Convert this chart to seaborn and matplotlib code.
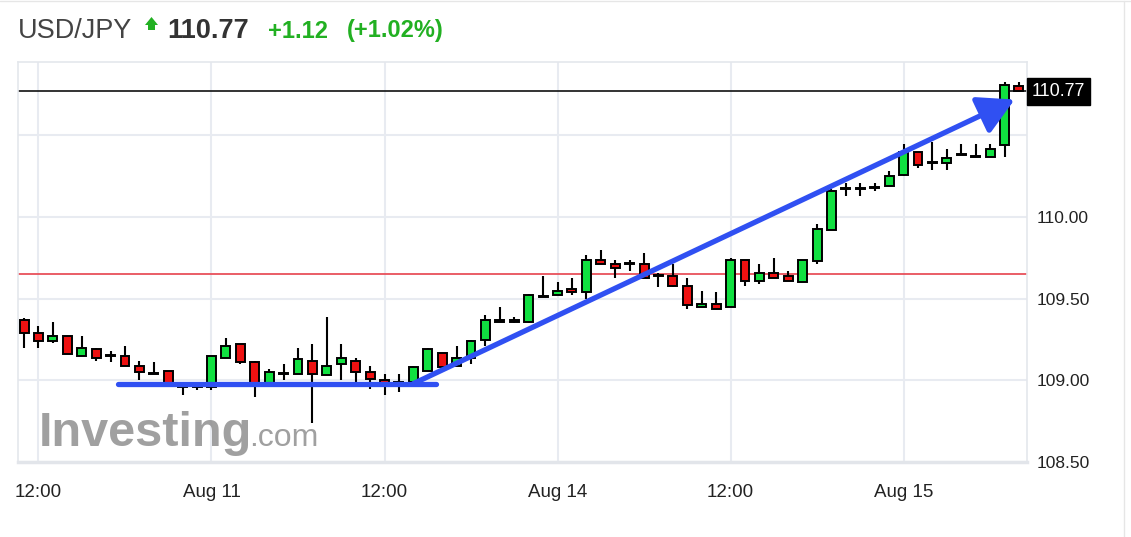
import matplotlib
matplotlib.use("Agg")
import matplotlib.pyplot as plt
from matplotlib.patches import Polygon
import seaborn as sns

# hourly candles, USD/JPY
opens = [109.37, 109.29, 109.24, 109.27, 109.15, 109.19, 109.15, 109.15, 109.09, 109.04,
         109.06, 108.96, 108.96, 108.96, 109.14, 109.22, 109.11, 108.98, 109.04, 109.04,
         109.12, 109.03, 109.10, 109.12, 109.05, 109.00, 108.98, 108.99, 109.06, 109.17,
         109.09, 109.14, 109.25, 109.36, 109.36, 109.36, 109.51, 109.52, 109.56, 109.54,
         109.74, 109.71, 109.71, 109.71, 109.64, 109.64, 109.58, 109.45, 109.47, 109.45,
         109.74, 109.61, 109.66, 109.64, 109.60, 109.73, 109.92, 110.17, 110.17, 110.18,
         110.19, 110.26, 110.40, 110.33, 110.33, 110.38, 110.37, 110.37, 110.44, 110.80]
closes = [109.29, 109.24, 109.27, 109.16, 109.20, 109.14, 109.15, 109.09, 109.05, 109.04,
          108.97, 108.96, 108.96, 109.15, 109.21, 109.11, 108.98, 109.05, 109.04, 109.13,
          109.04, 109.09, 109.14, 109.05, 109.01, 108.98, 108.98, 109.08, 109.19, 109.08,
          109.14, 109.24, 109.37, 109.36, 109.36, 109.52, 109.51, 109.55, 109.54, 109.74,
          109.71, 109.69, 109.71, 109.63, 109.64, 109.58, 109.46, 109.47, 109.44, 109.74,
          109.61, 109.66, 109.63, 109.61, 109.74, 109.93, 110.16, 110.17, 110.17, 110.18,
          110.25, 110.40, 110.32, 110.33, 110.36, 110.38, 110.37, 110.42, 110.81, 110.77]
highs = [109.38, 109.33, 109.36, 109.27, 109.27, 109.20, 109.18, 109.21, 109.12, 109.11,
         109.06, 108.98, 108.99, 109.15, 109.26, 109.22, 109.12, 109.07, 109.10, 109.20,
         109.22, 109.39, 109.22, 109.14, 109.09, 109.04, 109.04, 109.09, 109.20, 109.17,
         109.21, 109.25, 109.40, 109.45, 109.39, 109.53, 109.64, 109.60, 109.63, 109.77,
         109.80, 109.74, 109.74, 109.78, 109.66, 109.71, 109.63, 109.55, 109.54, 109.75,
         109.74, 109.71, 109.75, 109.67, 109.74, 109.96, 110.17, 110.21, 110.21, 110.21,
         110.28, 110.45, 110.40, 110.46, 110.42, 110.45, 110.45, 110.45, 110.83, 110.83]
lows = [109.20, 109.20, 109.23, 109.16, 109.15, 109.12, 109.11, 109.09, 109.00, 109.04,
        108.96, 108.91, 108.94, 108.94, 109.14, 109.10, 108.90, 108.97, 109.00, 109.04,
        108.74, 109.03, 109.00, 108.99, 108.95, 108.91, 108.93, 108.99, 109.06, 109.08,
        109.09, 109.10, 109.21, 109.36, 109.35, 109.35, 109.51, 109.52, 109.52, 109.50,
        109.71, 109.63, 109.67, 109.63, 109.57, 109.57, 109.44, 109.45, 109.44, 109.45,
        109.58, 109.59, 109.63, 109.61, 109.60, 109.71, 109.92, 110.13, 110.13, 110.16,
        110.19, 110.25, 110.30, 110.29, 110.29, 110.38, 110.37, 110.37, 110.37, 110.77]

tick_pos = [1, 13, 25, 37, 49, 61]
tick_labels = ["12:00", "Aug 11", "12:00", "Aug 14", "12:00", "Aug 15"]
y_ticks = [108.5, 109.0, 109.5, 110.0, 110.5]
y_labels = ["108.50", "109.00", "109.50", "110.00", ""]

last_price = 110.77
prev_close = 109.65

# hand drawn support / trend lines
support_x = [6.5, 28.6]
support_y = [108.98, 108.98]
trend_x = [27.0, 68.7]
trend_y = [108.98, 110.72]

sns.set_style("white")
plt.rcParams["font.family"] = ["Liberation Sans", "DejaVu Sans"]

W, H = 1131, 537
fig = plt.figure(figsize=(W / 100, H / 100), dpi=100)
ax = fig.add_axes([18 / W, 1 - 462 / H, (1027 - 18) / W, (462 - 62) / H])

grid_c = "#e8ebf1"
for y in y_ticks:
    ax.axhline(y, color=grid_c, lw=1.5, zorder=0)
for x in tick_pos:
    ax.axvline(x, color=grid_c, lw=1.5, zorder=0)

# watermark
ax.text(1.0, 108.6, "Investing", fontsize=35, fontweight="bold", color="#8f8f8f",
        alpha=0.85, zorder=1, va="baseline")
ax.text(15.6, 108.6, ".com", fontsize=23, color="#8f8f8f", alpha=0.85,
        zorder=1, va="baseline")

# reference lines
ax.axhline(prev_close, color="#e8515b", lw=1.3, zorder=1)
ax.axhline(last_price, color="#111111", lw=1.2, zorder=1)

# candles
xs = list(range(len(opens)))
ax.vlines(xs, lows, highs, color="black", lw=1.5, zorder=2)
for i, (o, c) in enumerate(zip(opens, closes)):
    if c > o:
        fc = "#10e040"
    elif c < o:
        fc = "#ee1111"
    else:
        fc = "black"
    ax.bar(i, max(abs(c - o), 0.007), bottom=min(o, c), width=0.62,
           color=fc, edgecolor="black", lw=1.4, zorder=3)

# blue annotations
blue = "#3050f2"
sns.lineplot(x=support_x, y=support_y, ax=ax, color=blue, lw=3.8, zorder=4)
ax.annotate("", xy=(trend_x[1], trend_y[1]), xytext=(trend_x[0], trend_y[0]),
            arrowprops=dict(arrowstyle="-|>,head_length=1.0,head_width=0.55",
                            color=blue, lw=3.8, mutation_scale=22,
                            shrinkA=0, shrinkB=0), zorder=4)

ax.set_xlim(-0.42, 69.56)
ax.set_ylim(108.5, 110.95)
ax.set_xticks(tick_pos)
ax.set_xticklabels(tick_labels)
ax.set_yticks(y_ticks)
ax.set_yticklabels(y_labels)
ax.yaxis.tick_right()
ax.tick_params(axis="x", length=0, pad=16, labelsize=13.5, labelcolor="#222222")
ax.tick_params(axis="y", length=0, pad=7, labelsize=12.5, labelcolor="#222222")
ax.grid(False)
for side in ["left", "top", "right"]:
    ax.spines[side].set_color("#e4e7ec")
    ax.spines[side].set_linewidth(1.2)
ax.spines["bottom"].set_color("#e2e5ea")
ax.spines["bottom"].set_linewidth(2.5)

# current price box
ax.text(1.005, last_price, "110.77", transform=ax.get_yaxis_transform(),
        fontsize=13, color="white", va="center", ha="left",
        bbox=dict(boxstyle="square,pad=0.28", fc="black", ec="black"))

# header
def fx(px):
    return px / W

hy = 1 - 31 / H
fig.text(fx(18), hy, "USD/JPY", fontsize=19.5, color="#444444", va="center")
fig.text(fx(167), hy, "110.77", fontsize=19.5, fontweight="bold", color="#333333", va="center")
fig.text(fx(268), hy, "+1.12", fontsize=17, fontweight="bold", color="#22b022", va="center")
fig.text(fx(347), hy, "(+1.02%)", fontsize=17, fontweight="bold", color="#22b022", va="center")
arrow_pts = [(145, 25), (151.5, 17), (158, 25), (155, 25), (155, 30), (148, 30), (148, 25)]
fig.patches.append(Polygon([(fx(x), 1 - y / H) for x, y in arrow_pts], closed=True,
                           transform=fig.transFigure, fc="#22b022", ec="none"))

# faint frame lines of the page
fig.add_artist(plt.Line2D([0, 1], [1 - 1 / H, 1 - 1 / H], transform=fig.transFigure,
                          color="#e6e6e6", lw=1))
fig.add_artist(plt.Line2D([1124 / W, 1124 / W], [0, 1 - 1 / H], transform=fig.transFigure,
                          color="#e6e6e6", lw=1))

fig.savefig("out.png", dpi=100, facecolor="white")
